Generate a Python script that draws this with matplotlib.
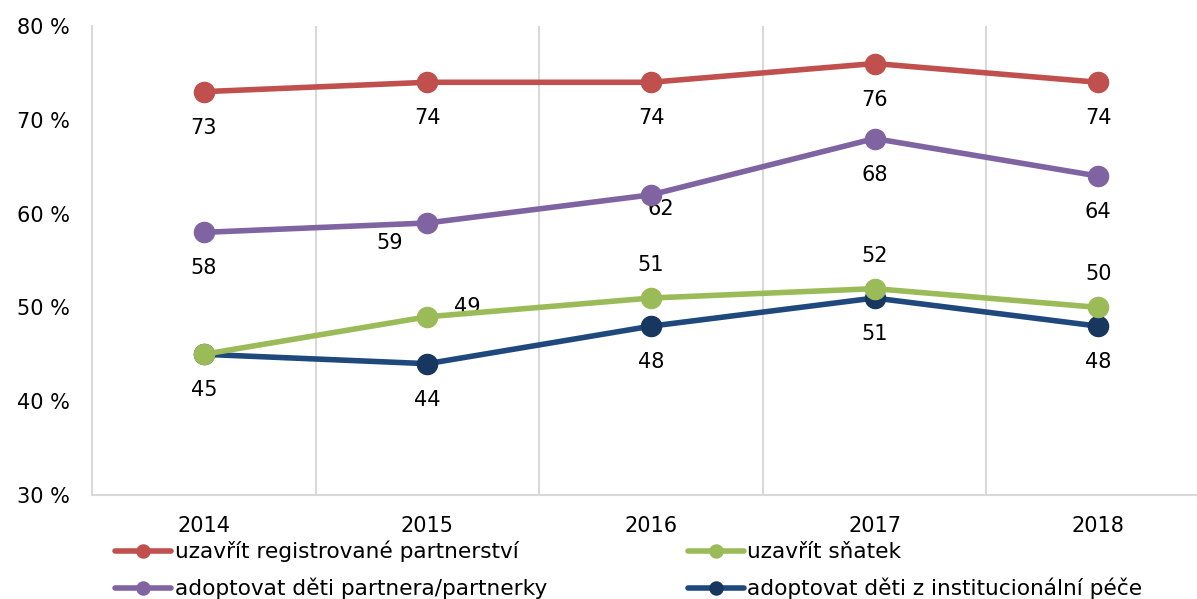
import matplotlib.pyplot as plt

# --- data ---
years = ['2014', '2015', '2016', '2017', '2018']
registrovane = [73, 74, 74, 76, 74]
deti_partnera = [58, 59, 62, 68, 64]
snatek = [45, 49, 51, 52, 50]
institucionalni = [45, 44, 48, 51, 48]
yticks = [30, 40, 50, 60, 70, 80]

plt.rcParams['font.family'] = 'DejaVu Sans'
plt.rcParams['font.size'] = 15

fig = plt.figure(figsize=(11.97, 5.99), dpi=100)
ax = fig.add_axes([92 / 1197, 1 - 495 / 599, 1 - 92 / 1197, (495 - 26) / 599])

x = list(range(len(years)))
series = [
    ('uzavřít registrované partnerství', registrovane, '#C0504D', '#C0504D'),
    ('adoptovat děti partnera/partnerky', deti_partnera, '#8064A2', '#8064A2'),
    ('uzavřít sňatek', snatek, '#9BBB59', '#9BBB59'),
    ('adoptovat děti z institucionální péče', institucionalni, '#1F497D', '#17375E'),
]
# navy drawn under green, as in the reference
z = {0: 4, 1: 4, 2: 4, 3: 3}
handles = {}
for i, (name, vals, col, mcol) in enumerate(series):
    h, = ax.plot(x, vals, color=col, lw=4, marker='o', ms=14.5,
                 markerfacecolor=mcol, markeredgecolor=mcol, label=name,
                 zorder=z[i], solid_capstyle='round')
    handles[name] = h

# data labels (pixel offsets per point)
offsets = {
    'uzavřít registrované partnerství': [(0, -36)] * 5,
    'adoptovat děti partnera/partnerky': [(0, -36), (-38, -20), (10, -14), (0, -36), (0, -36)],
    'uzavřít sňatek': [None, (40, 10), (0, 33), (0, 33), (0, 33)],
    'adoptovat děti z institucionální péče': [(0, -36)] * 5,
}
for name, vals, col, mcol in series:
    for xi, v, off in zip(x, vals, offsets[name]):
        if off is None:
            continue
        ax.annotate(str(v), (xi, v), xytext=off, textcoords='offset pixels',
                    ha='center', va='center', fontsize=15, color='black')

ax.set_xlim(-0.5, -0.5 + (1197 - 92) / 223.6)
ax.set_ylim(30, 80)
ax.set_yticks(yticks)
ax.set_yticklabels([f'{t}\u00a0%' for t in yticks])
ax.set_xticks(x)
ax.set_xticklabels(years)
ax.tick_params(length=0)
ax.tick_params(axis='y', pad=16)
ax.tick_params(axis='x', pad=15)

for b in [0.5, 1.5, 2.5, 3.5]:
    ax.axvline(b, color='#d9d9d9', lw=1.5, zorder=1)
for s in ['top', 'right']:
    ax.spines[s].set_visible(False)
for s in ['left', 'bottom']:
    ax.spines[s].set_color('#d9d9d9')
    ax.spines[s].set_linewidth(1.5)

order = ['uzavřít registrované partnerství', 'adoptovat děti partnera/partnerky',
         'uzavřít sňatek', 'adoptovat děti z institucionální péče']
leg = fig.legend([handles[n] for n in order], order, ncol=2, loc='upper left',
                 bbox_to_anchor=(115 / 1197, 1 - 541 / 599), frameon=False,
                 borderpad=0, borderaxespad=0, handlelength=2.6, handletextpad=0.15,
                 columnspacing=6.5, labelspacing=0.7, markerscale=0.65,
                 prop={'size': 15.6})

fig.savefig('out.png', dpi=100)
